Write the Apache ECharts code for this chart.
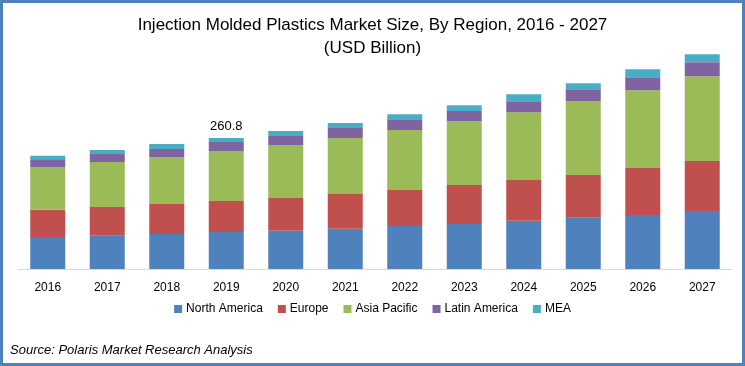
<!DOCTYPE html>
<html>
<head>
<meta charset="utf-8">
<script src="https://cdn.jsdelivr.net/npm/echarts@6/dist/echarts.min.js"></script>
<style>
html,body{margin:0;padding:0;background:#fff;}
#wrap{position:relative;width:745px;height:366px;}
#chart{position:absolute;left:0;top:0;width:745px;height:366px;}
#frame{position:absolute;left:0;top:0;width:745px;height:366px;box-sizing:border-box;border:3px solid #4F81BD;pointer-events:none;}
</style>
</head>
<body>
<div id="wrap"><div id="chart"></div><div id="frame"></div></div>
<script>
var years = ['2016','2017','2018','2019','2020','2021','2022','2023','2024','2025','2026','2027'];
var northAmerica = [63.7, 66.3, 69.7, 73.7, 76.2, 80.2, 85.6, 89.6, 96.1, 102.1, 107.5, 115.4];
var europe       = [54.3, 57.1, 59.7, 61.7, 65.1, 69.1, 71.7, 77.6, 81.0, 85.0, 93.5, 99.5];
var asiaPacific  = [85.0, 89.6, 93.5, 99.6, 105.5, 111.5, 119.4, 127.4, 135.3, 147.3, 155.2, 169.2];
var latinAmerica = [13.9, 15.9, 15.9, 17.8, 17.9, 19.9, 19.9, 19.9, 21.9, 23.9, 25.9, 27.9];
var mea          = [8.6, 8.0, 10.0, 8.0, 10.0, 10.0, 11.9, 11.9, 13.9, 11.9, 15.9, 15.9];
var labelYear = '2019';
var labelText = '260.8';

var font = '"Liberation Sans", Arial, sans-serif';
var chart = echarts.init(document.getElementById('chart'), null, {renderer:'canvas'});

function seriesOf(name, data, color, withLabel){
  var d = data.map(function(v, i){
    if (withLabel && years[i] === labelYear) {
      return {value: v, label: {show: true, position: 'top', distance: 5, formatter: labelText,
        color: '#000', fontSize: 13, fontFamily: font}};
    }
    return v;
  });
  return {name: name, type: 'bar', stack: 'total', data: d, barWidth: 35,
    itemStyle: {color: color}, emphasis: {disabled: true}};
}

chart.setOption({
  animation: false,
  title: {
    text: 'Injection Molded Plastics Market Size, By Region, 2016 - 2027\n(USD Billion)',
    left: 'center', top: 9,
    textStyle: {fontFamily: font, fontSize: 17, fontWeight: 'normal', color: '#000', lineHeight: 23}
  },
  legend: {
    data: ['North America','Europe','Asia Pacific','Latin America','MEA'],
    left: 'center', top: 298, itemWidth: 8, itemHeight: 8, itemGap: 15, icon: 'rect',
    textStyle: {fontFamily: font, fontSize: 12, color: '#000', padding: [0,0,0,-1]}
  },
  grid: {left: 18, right: 13, top: 18, bottom: 97},
  xAxis: {
    type: 'category', data: years,
    axisLine: {lineStyle: {color: '#D9D9D9', width: 1}},
    axisTick: {show: false},
    axisLabel: {color: '#000', fontSize: 12, margin: 13, fontFamily: font}
  },
  yAxis: {type: 'value', min: 0, max: 500, show: false, splitLine: {show: false}},
  graphic: [{
    type: 'text', left: 10, top: 344,
    style: {text: 'Source: Polaris Market Research Analysis', fill: '#000',
      font: 'italic 13px "Liberation Sans", Arial, sans-serif'}
  }],
  series: [
    seriesOf('North America', northAmerica, '#4F81BD'),
    seriesOf('Europe', europe, '#C0504D'),
    seriesOf('Asia Pacific', asiaPacific, '#9BBB59'),
    seriesOf('Latin America', latinAmerica, '#8064A2'),
    seriesOf('MEA', mea, '#4BACC6', true)
  ]
});
</script>
</body>
</html>
